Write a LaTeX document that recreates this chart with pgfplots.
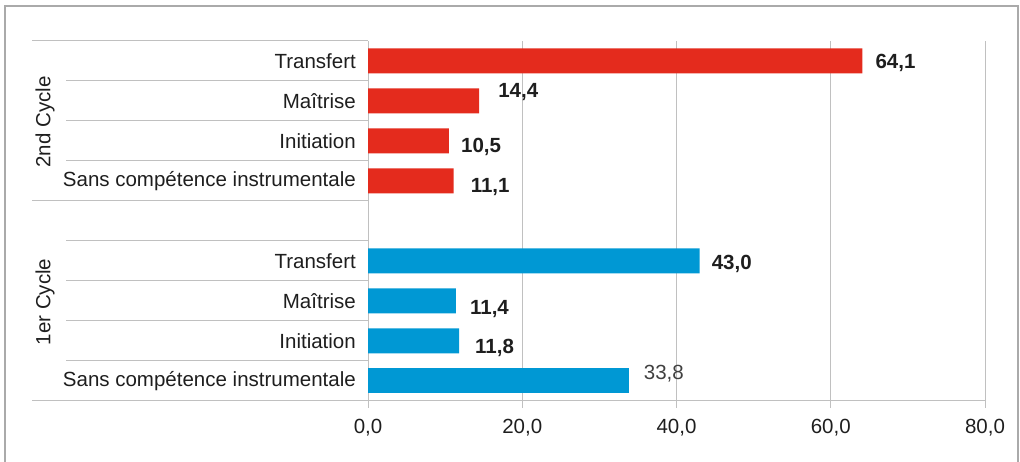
\documentclass[border=0pt]{standalone}
\usepackage{fontspec}
\setmainfont{Liberation Sans}
\usepackage{pgfplots}
\pgfplotsset{compat=1.18}
\usepackage{pgfplotstable}
\definecolor{barred}{RGB}{228,43,29}
\definecolor{barblue}{RGB}{0,152,212}
\definecolor{gridgray}{RGB}{192,192,192}
\definecolor{framegray}{RGB}{170,170,170}
\definecolor{txt}{RGB}{30,30,30}
\newcommand{\lblfont}{\fontsize{20.5bp}{24bp}\selectfont}

\pgfplotstableread{
x y dx dy
64.1 8 13 -2
14.4 7 19 9
10.5 6 12 -6
11.1 5 17 -6
}\second
\pgfplotstableread{
x y dx dy
43.0 3 12 -3
11.4 2 14 -8
11.8 1 16 -7
}\firstA
\pgfplotstableread{
x y dx dy
33.8 0 15 7
}\firstB

\begin{document}
\begin{tikzpicture}[x=1bp,y=1bp]
\useasboundingbox (0,0) rectangle (1020,462);
\coordinate (A) at (368,61);
\draw[framegray, line width=1.2bp] (5,-5) -- (5,456) -- (1018,456) -- (1018,-5);
\begin{axis}[
 at={(A)}, anchor=south west,
 width=617bp, height=360bp, scale only axis,
 xmin=0, xmax=80, ymin=-0.5, ymax=8.5,
 axis x line=bottom, axis y line=left,
 axis line style={-, draw=gridgray, line width=1bp},
 xtick={0,20,40,60,80},
 xmajorgrids, grid style={gridgray, line width=1bp},
 ytick={0,1,2,3,5,6,7,8},
 yticklabels={Sans compétence instrumentale, Initiation, Maîtrise, Transfert, Sans compétence instrumentale, Initiation, Maîtrise, Transfert},
 /pgf/number format/.cd, fixed, fixed zerofill, precision=1, use comma, assume math mode=true,
 /pgfplots/.cd,
 xtick style={draw=gridgray, line width=1bp},
 ytick style={draw=none},
 tick align=outside,
 major tick length=7bp,
 xticklabel shift=11bp,
 xticklabel style={font=\lblfont, text=txt, anchor=north, inner sep=0pt},
 yticklabel style={font=\lblfont, text=txt, anchor=east, inner sep=0pt, xshift=-5bp},
 clip=false,
]
\addplot[xbar, bar width=25bp, bar shift=0pt, fill=barred, draw=none,
  nodes near coords,
  visualization depends on={\thisrow{dx} \as \labdx},
  visualization depends on={\thisrow{dy} \as \labdy},
  every node near coord/.append style={anchor=west, inner sep=0pt, xshift=\labdx bp, yshift=\labdy bp, font=\lblfont\bfseries, text=txt}]
  table[x=x, y=y] {\second};
\addplot[xbar, bar width=25bp, bar shift=0pt, fill=barblue, draw=none,
  nodes near coords,
  visualization depends on={\thisrow{dx} \as \labdx},
  visualization depends on={\thisrow{dy} \as \labdy},
  every node near coord/.append style={anchor=west, inner sep=0pt, xshift=\labdx bp, yshift=\labdy bp, font=\lblfont\bfseries, text=txt}]
  table[x=x, y=y] {\firstA};
\addplot[xbar, bar width=25bp, bar shift=0pt, fill=barblue, draw=none,
  nodes near coords,
  visualization depends on={\thisrow{dx} \as \labdx},
  visualization depends on={\thisrow{dy} \as \labdy},
  every node near coord/.append style={anchor=west, inner sep=0pt, xshift=\labdx bp, yshift=\labdy bp, font=\lblfont, text=black!75}]
  table[x=x, y=y] {\firstB};
\end{axis}
\foreach \yy in {421,261,61} \draw[gridgray, line width=1bp] (32,\yy) -- (368,\yy);
\foreach \yy in {381,341,301,221,181,141,101} \draw[gridgray, line width=1bp] (66,\yy) -- (368,\yy);
\node[rotate=90, text=txt, font=\lblfont, inner sep=0pt] at (45,340) {2nd Cycle};
\node[rotate=90, text=txt, font=\lblfont, inner sep=0pt] at (45,160) {1er Cycle};
\end{tikzpicture}
\end{document}
